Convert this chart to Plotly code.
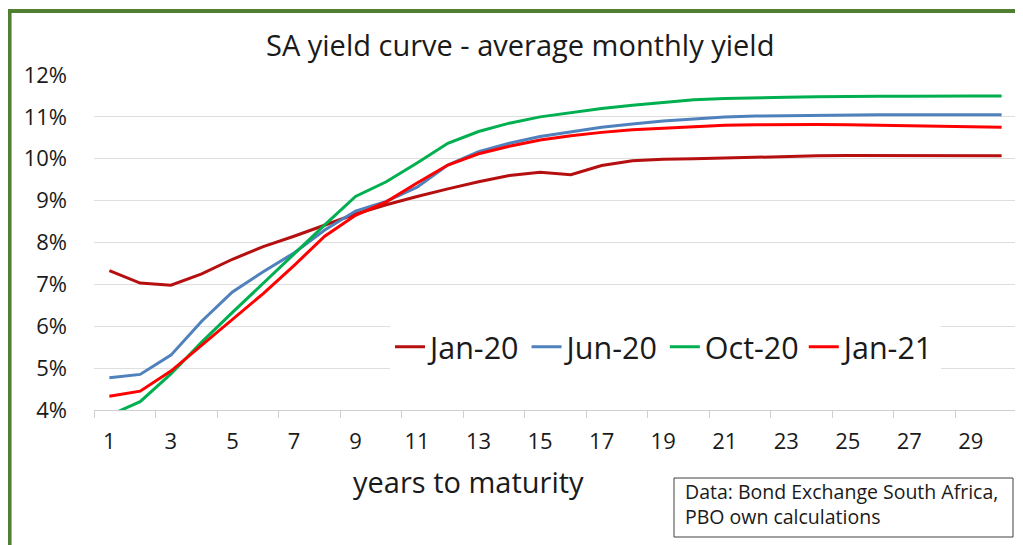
import plotly.graph_objects as go

# years to maturity (categories)
years = list(range(1, 31))

# average monthly yields, %
jan20 = [7.33, 7.03, 6.98, 7.25, 7.6, 7.9, 8.15, 8.42, 8.68, 8.9,
         9.1, 9.28, 9.45, 9.6, 9.68, 9.62, 9.84, 9.95, 9.99, 10.0,
         10.02, 10.04, 10.06, 10.07, 10.08, 10.08, 10.08, 10.07, 10.07, 10.07]
jun20 = [4.77, 4.85, 5.31, 6.12, 6.82, 7.3, 7.75, 8.3, 8.75, 8.98,
         9.32, 9.85, 10.17, 10.37, 10.53, 10.64, 10.75, 10.83, 10.9, 10.95,
         11.0, 11.02, 11.03, 11.04, 11.05, 11.05, 11.05, 11.05, 11.05, 11.05]
oct20 = [3.87, 4.2, 4.86, 5.62, 6.33, 7.03, 7.72, 8.42, 9.1, 9.45,
         9.9, 10.37, 10.65, 10.85, 11.0, 11.1, 11.2, 11.28, 11.35, 11.41,
         11.44, 11.46, 11.47, 11.48, 11.49, 11.49, 11.49, 11.5, 11.5, 11.5]
jan21 = [4.33, 4.45, 4.93, 5.55, 6.15, 6.78, 7.45, 8.15, 8.65, 8.97,
         9.42, 9.85, 10.12, 10.3, 10.45, 10.55, 10.63, 10.69, 10.73, 10.77,
         10.8, 10.81, 10.82, 10.82, 10.81, 10.8, 10.79, 10.78, 10.77, 10.75]

series = [
    ('Jan-20', jan20, '#B50F0F'),
    ('Jun-20', jun20, '#4F81BD'),
    ('Oct-20', oct20, '#00B050'),
    ('Jan-21', jan21, '#FF0000'),
]

x_labels = [str(y) for y in years[::2]]
y_ticks = list(range(4, 13))
y_labels = [f'{v}%' for v in y_ticks]

FONT = 'Open Sans'
TXT = '#1a1a1a'

# screen pixels of the plot area, used to place the extra pieces
px0, px1, py0, py1 = 94, 1017, 410, 75
def sx(v):
    return (v - px0) / (px1 - px0)
def sy(v):
    return (py0 - v) / (py0 - py1)

fig = go.Figure()
for name, vals, color in series:
    fig.add_trace(go.Scatter(
        x=years, y=vals, name=name, mode='lines',
        line=dict(color=color, width=3),
    ))

# the page adds an 8px body margin, so the figure is 8px smaller each way
fig.update_layout(
    width=1015, height=537,
    margin=dict(l=86, r=6, t=67, b=135),
    paper_bgcolor='white', plot_bgcolor='white',
    font=dict(family=FONT, color=TXT),
    showlegend=True,
    legend=dict(
        orientation='h', x=sx(390), xanchor='left', y=sy(347), yanchor='middle',
        bgcolor='white', font=dict(size=30.5, family=FONT, color=TXT),
        itemwidth=30, tracegroupgap=0,
    ),
    xaxis=dict(
        range=[0.5, 30.5], showgrid=False, zeroline=False,
        tickvals=years[::2], ticktext=x_labels, ticks='',
        tickfont=dict(size=22), ticklabelstandoff=12,
        showline=True, linecolor='#D0D0D0', linewidth=1,
        minor=dict(tickvals=[v + 0.5 for v in range(0, 31, 2)], ticks='outside',
                   ticklen=7, tickcolor='#D0D0D0', showgrid=False),
    ),
    yaxis=dict(
        range=[4, 12], tickvals=y_ticks, ticktext=y_labels,
        showgrid=True, gridcolor='#DEDEDE', gridwidth=1, zeroline=False,
        tickfont=dict(size=22), ticklabelstandoff=26,
    ),
    annotations=[
        dict(text='SA yield curve - average monthly yield', x=sx(520), y=sy(45),
             xref='paper', yref='paper', xanchor='center', yanchor='middle',
             showarrow=False, font=dict(size=29, color=TXT)),
        dict(text='years to maturity', x=sx(468), y=sy(481),
             xref='paper', yref='paper', xanchor='center', yanchor='middle',
             showarrow=False, font=dict(size=29, color=TXT)),
        dict(text='Data: Bond Exchange South Africa,<br>PBO own calculations',
             x=sx(683), y=sy(504), xref='paper', yref='paper',
             xanchor='left', yanchor='middle', align='left', showarrow=False,
             font=dict(size=19.5, color=TXT)),
    ],
    shapes=[
        dict(type='rect', xref='paper', yref='paper',
             x0=-0.0915, x1=1.02, y0=-0.5, y1=1.191,
             line=dict(color='#4F7F31', width=4)),
        dict(type='rect', xref='paper', yref='paper',
             x0=sx(674), x1=sx(1013), y0=sy(537), y1=sy(478),
             line=dict(color='#404040', width=1), fillcolor='white', layer='below'),
    ],
)

fig.write_html('out.html')
